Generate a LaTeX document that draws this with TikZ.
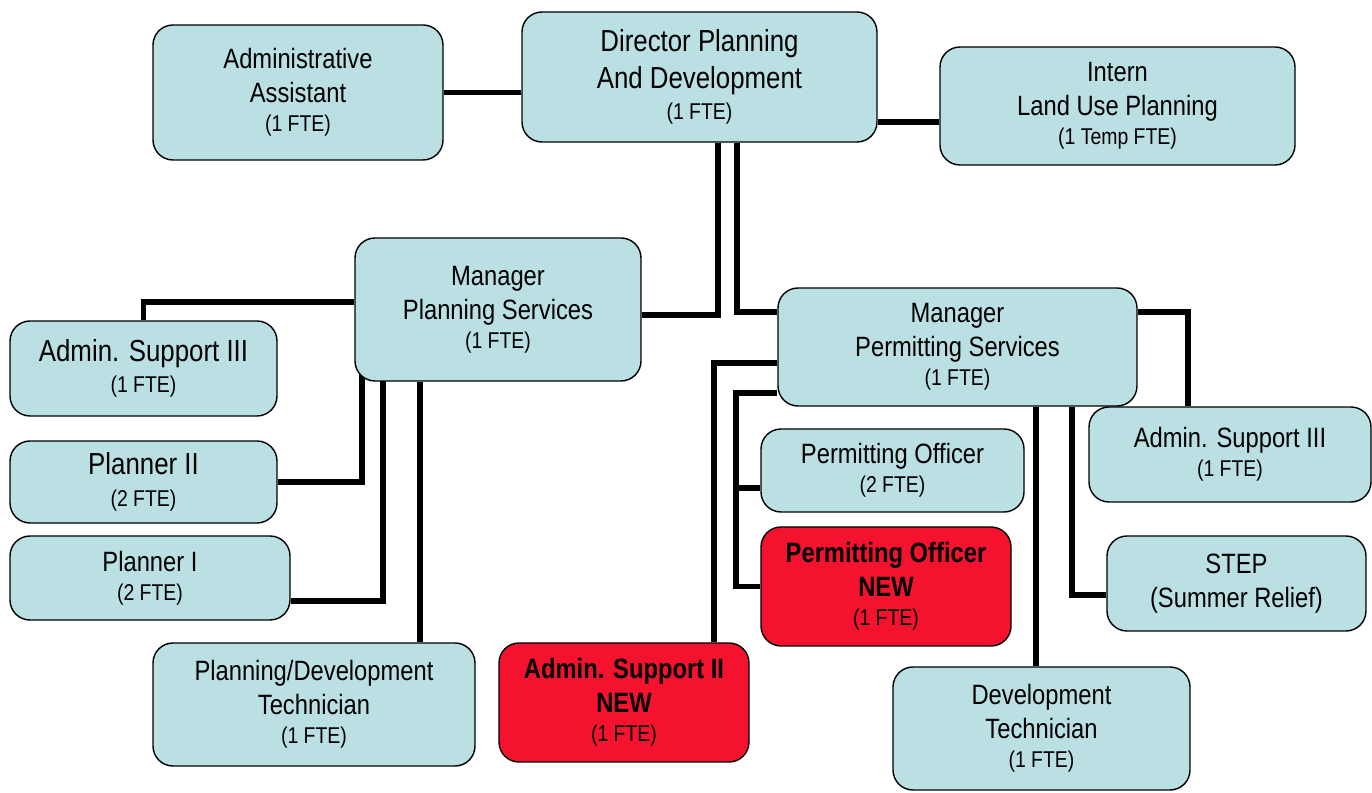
\documentclass[tikz,border=0pt]{standalone}
\usepackage{fontspec}
\setmainfont[FakeStretch=0.85]{Liberation Sans}
\usetikzlibrary{backgrounds}
\definecolor{orgblue}{RGB}{186,224,227}
\definecolor{orgred}{RGB}{244,18,46}
\newcommand{\fte}[1]{\\[-3pt]{\mdseries\fontsize{13}{15}\selectfont #1}}

\begin{document}
\begin{tikzpicture}[font=\fontsize{15.9}{19.4}\selectfont]
\tikzstyle{b}=[draw,rounded corners=0.4cm,fill=orgblue,align=center,inner sep=0pt,line width=0.8pt]
\tikzstyle{r}=[b,fill=orgred,font=\fontsize{15.9}{19.4}\selectfont\bfseries]
\tikzstyle{big}=[font=\fontsize{17.3}{21}\selectfont]
\tikzstyle{l}=[line width=3.4pt]
\useasboundingbox (0,0) rectangle (27.44,-15.86);
\node[b,big,minimum width=7.10cm,minimum height=2.60cm] (dir) at (13.99,-1.54) {Director Planning\\And Development\fte{(1 FTE)}};
\node[b,minimum width=5.80cm,minimum height=2.70cm] (aa) at (5.96,-1.85) {Administrative\\Assistant\fte{(1 FTE)}};
\node[b,minimum width=7.10cm,minimum height=2.36cm] (intern) at (22.35,-2.12) {Intern\\Land Use Planning\fte{(1 Temp FTE)}};
\node[b,minimum width=5.72cm,minimum height=2.86cm] (mps) at (9.96,-6.19) {Manager\\Planning Services\fte{(1 FTE)}};
\node[b,minimum width=7.18cm,minimum height=2.36cm] (mperm) at (19.15,-6.94) {Manager\\Permitting Services\fte{(1 FTE)}};
\node[b,big,minimum width=5.34cm,minimum height=1.90cm] (as3l) at (2.87,-7.37) {Admin. Support III\fte{(1 FTE)}};
\node[b,big,minimum width=5.34cm,minimum height=1.64cm] (pl2) at (2.87,-9.64) {Planner II\fte{(2 FTE)}};
\node[b,minimum width=5.60cm,minimum height=1.68cm] (pl1) at (3.00,-11.56) {Planner I\fte{(2 FTE)}};
\node[b,minimum width=6.44cm,minimum height=2.46cm] (pdt) at (6.28,-14.09) {Planning/Development\\Technician\fte{(1 FTE)}};
\node[r,minimum width=5.00cm,minimum height=2.38cm] (as2) at (12.48,-14.05) {Admin. Support II\\NEW\fte{(1 FTE)}};
\node[b,minimum width=5.26cm,minimum height=1.66cm] (po) at (17.85,-9.41) {Permitting Officer\fte{(2 FTE)}};
\node[r,minimum width=5.00cm,minimum height=2.38cm] (pon) at (17.72,-11.73) {Permitting Officer\\NEW\fte{(1 FTE)}};
\node[b,minimum width=5.64cm,minimum height=1.90cm] (as3r) at (24.60,-9.09) {Admin. Support III\fte{(1 FTE)}};
\node[b,minimum width=5.18cm,minimum height=1.90cm] (step) at (24.73,-11.67) {STEP\\(Summer Relief)};
\node[b,minimum width=5.94cm,minimum height=2.46cm] (dt) at (20.83,-14.57) {Development\\Technician\fte{(1 FTE)}};
\begin{scope}[on background layer]
\draw[l] (aa.east) -- (aa.east -| dir.west);
\draw[l] ([yshift=-0.32cm]intern.west) -- ([yshift=-0.32cm]intern.west -| dir.east);
\draw[l] ([xshift=0.37cm]dir.south) |- ([yshift=-0.11cm]mps.east);
\draw[l] ([xshift=0.75cm]dir.south) |- ([yshift=0.70cm]mperm.west);
\draw[l] ([yshift=0.15cm]mps.west) -| (as3l.north);
\draw[l] ([xshift=-2.72cm,yshift=0.3cm]mps.south) |- (pl2.east);
\draw[l] ([xshift=-2.30cm,yshift=0.3cm]mps.south) |- ([yshift=-0.46cm]pl1.east);
\draw[l] ([xshift=-1.56cm]mps.south) -- ([xshift=-1.56cm]mps.south |- pdt.north);
\draw[l] ([yshift=-0.32cm]mperm.west) -| ([xshift=1.80cm]as2.north);
\draw[l] ([yshift=-0.92cm]mperm.west) -| ([xshift=-0.48cm]pon.west) |- (pon.west);
\draw[l] ([xshift=-0.48cm,yshift=-0.35cm]po.west) -- ([yshift=-0.35cm]po.west);
\draw[l] ([xshift=-0.11cm]dt.north) -- ([xshift=-0.11cm]dt.north |- mperm.south);
\draw[l] ([xshift=2.29cm]mperm.south) |- ([yshift=-0.23cm]step.west);
\draw[l] ([yshift=0.70cm]mperm.east) -| ([xshift=-0.84cm]as3r.north);
\end{scope}
\end{tikzpicture}
\end{document}
